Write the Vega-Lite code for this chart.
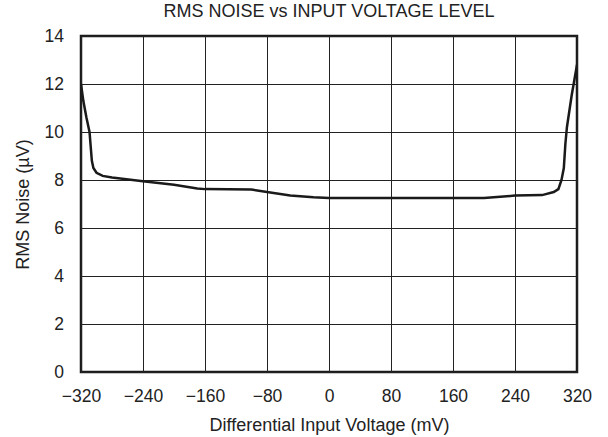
{
  "$schema": "https://vega.github.io/schema/vega-lite/v6.json",
  "width": 496,
  "height": 336,
  "autosize": "none",
  "padding": {"left": 81, "top": 36, "right": 31, "bottom": 65},
  "background": "white",
  "title": {"text": "RMS NOISE vs INPUT VOLTAGE LEVEL", "font": "Liberation Sans", "fontSize": 18, "fontWeight": "normal", "color": "#222", "offset": 9, "dy": 17, "anchor": "middle", "baseline": "alphabetic"},
  "config": {
    "view": {"stroke": "#1a1a1a", "strokeWidth": 2.5},
    "axis": {"labelFont": "Liberation Sans", "titleFont": "Liberation Sans", "labelFontSize": 17.5, "titleFontSize": 18, "titleFontWeight": "normal", "labelColor": "#222", "titleColor": "#222", "gridColor": "#222", "gridOpacity": 1, "gridWidth": 1, "ticks": false, "domain": false}
  },
  "data": {"values": [
    {"v": -320, "n": 12.0},
    {"v": -317, "n": 11.3},
    {"v": -313, "n": 10.6},
    {"v": -309, "n": 10.0},
    {"v": -307, "n": 9.2},
    {"v": -306, "n": 8.8},
    {"v": -304, "n": 8.5},
    {"v": -300, "n": 8.3},
    {"v": -292, "n": 8.17},
    {"v": -280, "n": 8.1},
    {"v": -240, "n": 7.95},
    {"v": -200, "n": 7.8},
    {"v": -170, "n": 7.65},
    {"v": -160, "n": 7.62},
    {"v": -100, "n": 7.6},
    {"v": -80, "n": 7.5},
    {"v": -50, "n": 7.35},
    {"v": -20, "n": 7.28},
    {"v": 0, "n": 7.25},
    {"v": 80, "n": 7.25},
    {"v": 160, "n": 7.25},
    {"v": 200, "n": 7.25},
    {"v": 240, "n": 7.35},
    {"v": 275, "n": 7.37},
    {"v": 290, "n": 7.5},
    {"v": 296, "n": 7.62},
    {"v": 300, "n": 8.0},
    {"v": 303, "n": 8.5},
    {"v": 305, "n": 9.5},
    {"v": 307, "n": 10.2},
    {"v": 313, "n": 11.5},
    {"v": 320, "n": 12.8}
  ]},
  "mark": {"type": "line", "color": "#1a1a1a", "strokeWidth": 2.5, "clip": true},
  "encoding": {
    "x": {"field": "v", "type": "quantitative", "scale": {"domain": [-320, 320], "nice": false, "zero": false},
      "axis": {"values": [-320, -240, -160, -80, 0, 80, 160, 240, 320], "title": "Differential Input Voltage (mV)", "labelBaseline": "alphabetic", "labelPadding": 29, "titleBaseline": "alphabetic", "titleY": 58, "labelFlush": false}},
    "y": {"field": "n", "type": "quantitative", "scale": {"domain": [0, 14], "nice": false},
      "axis": {"values": [0, 2, 4, 6, 8, 10, 12, 14], "title": "RMS Noise (µV)", "labelPadding": 17.5, "titleBaseline": "alphabetic", "titleX": -53}}
  }
}
